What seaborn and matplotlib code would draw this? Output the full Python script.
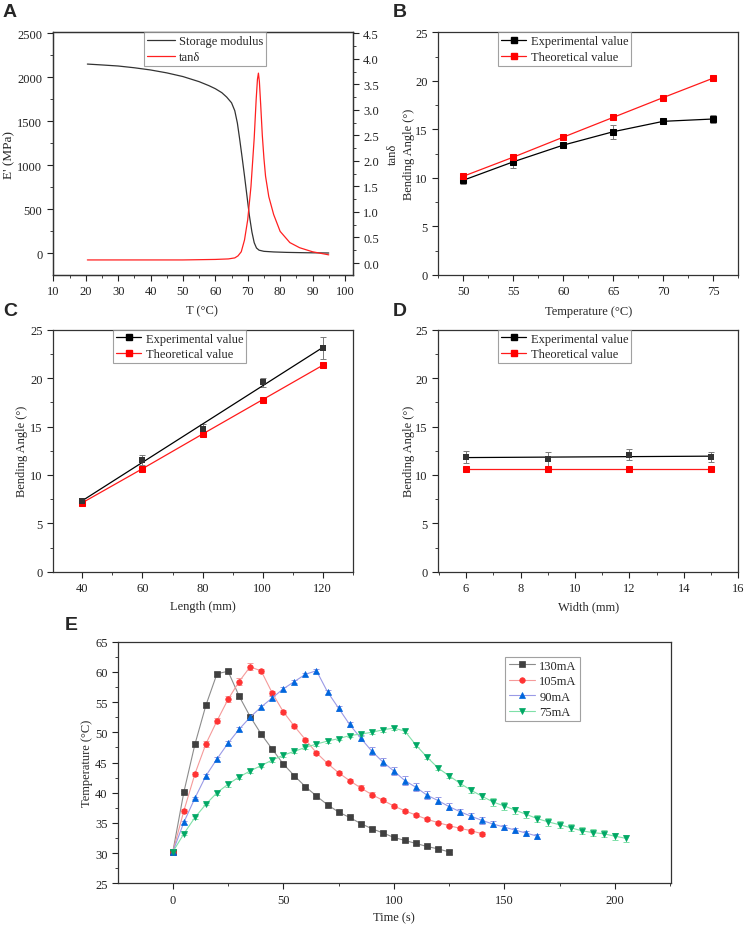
import matplotlib
matplotlib.use("Agg")
import numpy as np
import matplotlib.pyplot as plt
from matplotlib.ticker import MultipleLocator, FormatStrFormatter
from matplotlib.lines import Line2D
import seaborn as sns

# ---------------- data ----------------
# A: DMA scan
dma_T_storage = [20.5, 25, 30, 35, 40, 45, 50, 55, 58, 60, 62, 63.5, 65, 66, 66.8, 67.5,
                 68.3, 69, 69.8, 70.5, 71.3, 72, 72.7, 73.5, 75, 78, 82, 88, 95]
dma_storage = [2150, 2140, 2128, 2108, 2083, 2050, 2008, 1950, 1905, 1870, 1825, 1775,
               1710, 1620, 1480, 1300, 1080, 880, 640, 430, 240, 120, 60, 35, 22, 15, 10, 6, 3]
dma_T_tan = [20.5, 30, 40, 50, 60, 64, 66, 67, 68, 69, 70, 71, 72, 72.6, 73.0, 73.3, 73.6,
             74.0, 74.5, 75.0, 75.5, 76.5, 78, 80, 83, 86, 90, 95]
dma_tan = [0.06, 0.06, 0.06, 0.06, 0.07, 0.08, 0.10, 0.14, 0.22, 0.45, 0.85, 1.5, 2.45,
           3.2, 3.6, 3.72, 3.55, 3.1, 2.5, 2.05, 1.7, 1.3, 0.95, 0.62, 0.4, 0.3, 0.22, 0.16]

# B: temperature
temp_x = [50, 55, 60, 65, 70, 75]
temp_exp = [9.76, 11.66, 13.38, 14.76, 15.83, 16.07]
temp_exp_err = [0.4, 0.6, 0.2, 0.7, 0.2, 0.4]
temp_theo = [10.17, 12.14, 14.2, 16.24, 18.28, 20.28]

# C: length
length_x = [40, 60, 80, 100, 120]
length_exp = [7.33, 11.57, 14.7, 19.56, 23.1]
length_exp_err = [0.3, 0.5, 0.6, 0.5, 1.1]
length_theo = [7.13, 10.64, 14.22, 17.77, 21.32]

# D: width
width_x = [6, 9, 12, 15]
width_exp = [11.88, 11.6, 12.09, 11.88]
width_exp_err = [0.6, 0.8, 0.55, 0.5]
width_theo = [10.64, 10.64, 10.64, 10.64]

# E: heating / cooling curves
t_130 = [0, 5, 10, 15, 20, 25, 30, 35, 40, 45, 50, 55, 60, 65, 70, 75, 80, 85, 90, 95,
         100, 105, 110, 115, 120, 125]
T_130 = [30.2, 40.1, 48.0, 54.5, 59.7, 60.1, 56.0, 52.6, 49.7, 47.2, 44.75, 42.8, 41.0,
         39.45, 38.0, 36.8, 35.9, 34.9, 34.05, 33.35, 32.6, 32.1, 31.6, 31.1, 30.7, 30.2]
e_130 = [0.1, 0.2, 0.3, 0.3, 0.3, 0.3, 0.3, 0.3, 0.3, 0.3, 0.3, 0.3, 0.3, 0.3, 0.3, 0.3,
         0.3, 0.3, 0.3, 0.3, 0.3, 0.3, 0.3, 0.3, 0.3, 0.3]

t_105 = [0, 5, 10, 15, 20, 25, 30, 35, 40, 45, 50, 55, 60, 65, 70, 75, 80, 85, 90, 95,
         100, 105, 110, 115, 120, 125, 130, 135, 140]
T_105 = [30.2, 37.0, 43.1, 48.1, 51.9, 55.45, 58.4, 60.85, 60.15, 56.5, 53.4, 51.0, 48.8,
         46.6, 44.85, 43.3, 42.0, 40.8, 39.7, 38.75, 37.8, 37.0, 36.3, 35.6, 35.05, 34.55,
         34.1, 33.7, 33.2]
e_105 = [0.1, 0.3, 0.3, 0.5, 0.4, 0.5, 0.6, 0.6, 0.4, 0.4, 0.3, 0.3, 0.3, 0.3, 0.3, 0.3,
         0.3, 0.4, 0.4, 0.3, 0.3, 0.3, 0.3, 0.3, 0.3, 0.3, 0.3, 0.3, 0.3]

t_90 = [0, 5, 10, 15, 20, 25, 30, 35, 40, 45, 50, 55, 60, 65, 70, 75, 80, 85, 90, 95,
        100, 105, 110, 115, 120, 125, 130, 135, 140, 145, 150, 155, 160, 165]
T_90 = [30.2, 35.1, 39.1, 42.8, 45.6, 48.2, 50.5, 52.5, 54.2, 55.7, 57.2, 58.4, 59.6, 60.2,
        56.7, 54.0, 51.3, 49.05, 46.9, 45.1, 43.6, 42.0, 40.9, 39.6, 38.7, 37.7, 36.85,
        36.1, 35.4, 34.8, 34.3, 33.8, 33.3, 32.8]
e_90 = [0.1, 0.2, 0.2, 0.3, 0.3, 0.3, 0.3, 0.3, 0.3, 0.3, 0.3, 0.3, 0.3, 0.3, 0.3, 0.4,
        0.4, 0.5, 0.6, 0.6, 0.7, 0.7, 0.7, 0.6, 0.6, 0.6, 0.5, 0.5, 0.5, 0.5, 0.4, 0.4,
        0.4, 0.4]

t_75 = [0, 5, 10, 15, 20, 25, 30, 35, 40, 45, 50, 55, 60, 65, 70, 75, 80, 85, 90, 95,
        100, 105, 110, 115, 120, 125, 130, 135, 140, 145, 150, 155, 160, 165, 170, 175,
        180, 185, 190, 195, 200, 205]
T_75 = [30.2, 33.2, 35.9, 38.1, 40.0, 41.4, 42.6, 43.6, 44.5, 45.4, 46.2, 46.85, 47.5,
        48.05, 48.55, 48.95, 49.45, 49.7, 50.0, 50.4, 50.7, 50.2, 47.9, 45.9, 44.1, 42.8,
        41.55, 40.4, 39.4, 38.45, 37.8, 37.1, 36.4, 35.7, 35.15, 34.7, 34.2, 33.7, 33.4,
        33.2, 32.8, 32.45]
e_75 = [0.1, 0.2, 0.2, 0.2, 0.3, 0.4, 0.4, 0.3, 0.3, 0.3, 0.3, 0.3, 0.3, 0.3, 0.3, 0.3,
        0.3, 0.3, 0.3, 0.3, 0.4, 0.3, 0.3, 0.3, 0.3, 0.4, 0.5, 0.5, 0.5, 0.6, 0.6, 0.6,
        0.6, 0.6, 0.6, 0.6, 0.6, 0.6, 0.6, 0.6, 0.6, 0.6]

currents = ["130mA", "105mA", "90mA", "75mA"]

# ---------------- style ----------------
sns.set_theme(style="ticks")
plt.rcParams["font.family"] = ["Liberation Serif", "DejaVu Serif"]

FS = 9          # text size used for ticks, labels and legends
W, H = 747, 928
fig = plt.figure(figsize=(W / 100, H / 100), dpi=100)


def px_axes(left, top, right, bottom):
    return fig.add_axes([left / W, 1 - bottom / H, (right - left) / W, (bottom - top) / H])


def style_axes(ax, right_ticks=False):
    for s in ax.spines.values():
        s.set_visible(True)
        s.set_linewidth(0.9)
        s.set_color("#333333")
    ax.tick_params(which="both", direction="out", top=False, right=right_ticks,
                   labelsize=FS, colors="#222222")
    ax.tick_params(which="major", length=4, width=0.8)
    ax.tick_params(which="minor", length=2, width=0.6)


def boxed_legend(ax, anchor, handles=None, handlelength=2.0):
    kw = {} if handles is None else {"handles": handles}
    leg = ax.legend(loc="upper left", bbox_to_anchor=anchor, borderaxespad=0,
                    fontsize=FS, fancybox=False, handlelength=handlelength,
                    handletextpad=0.35, labelspacing=0.28, borderpad=0.25, **kw)
    leg.get_frame().set_edgecolor("#8a8a8a")
    leg.get_frame().set_linewidth(0.8)
    return leg


def panel_letter(x, y, s):
    fig.text(x / W, 1 - y / H, s, fontsize=14, fontweight="bold",
             family=["Liberation Sans", "DejaVu Sans"], va="top", ha="left")


# ---------------- A ----------------
axA = px_axes(52.7, 33.3, 352.7, 276)
axA2 = axA.twinx()
sns.lineplot(x=dma_T_storage, y=dma_storage, ax=axA, color="#333333", linewidth=0.9,
             label="Storage modulus", legend=False)
sns.lineplot(x=dma_T_tan, y=dma_tan, ax=axA2, color="#ff2020", linewidth=0.9,
             label="tanδ", legend=False)
axA.set_xlim(9.8, 102.4)
axA.set_ylim(-247, 2511)
axA2.set_ylim(-0.235, 4.52)
axA.xaxis.set_major_locator(MultipleLocator(10))
axA.xaxis.set_minor_locator(MultipleLocator(5))
axA.yaxis.set_major_locator(MultipleLocator(500))
axA.yaxis.set_minor_locator(MultipleLocator(250))
axA2.yaxis.set_major_locator(MultipleLocator(0.5))
axA2.yaxis.set_minor_locator(MultipleLocator(0.25))
axA2.yaxis.set_major_formatter(FormatStrFormatter("%.1f"))
style_axes(axA)
style_axes(axA2, right_ticks=True)
axA2.tick_params(which="both", left=False)
axA.set_xlabel("T (°C)", fontsize=FS)
axA.set_ylabel("E' (MPa)", fontsize=FS + 0.5)
axA2.set_ylabel("tanδ", fontsize=FS)
axA.xaxis.set_label_coords(0.497, -0.122)
axA.yaxis.set_label_coords(-0.126, 0.5)
axA2.yaxis.set_label_coords(1.113, 0.5)
hA = axA.get_lines() + axA2.get_lines()
boxed_legend(axA2, (0.304, 1.0), handles=hA, handlelength=2.2)


# ---------------- B, C, D ----------------
def bending_panel(ax, x, exp, err, theo, fit_exp=False):
    if fit_exp:
        # straight fit line through the experimental points, markers drawn on top
        coef = np.polyfit(x, exp, 1)
        xf = np.array([x[0], x[-1]])
        sns.lineplot(x=xf, y=np.polyval(coef, xf), ax=ax, color="black", linewidth=0.9,
                     legend=False)
        sns.scatterplot(x=x, y=exp, ax=ax, color="#333333", marker="s", s=20,
                        linewidth=0, zorder=3, legend=False)
    else:
        sns.lineplot(x=x, y=exp, ax=ax, color="black", linewidth=0.9, marker="s",
                     markersize=4.2, markerfacecolor="black", markeredgecolor="black",
                     legend=False)
    ax.errorbar(x, exp, yerr=err, fmt="none", ecolor="#7a7a7a", elinewidth=0.7,
                capsize=2.2, capthick=0.7, zorder=1)
    sns.lineplot(x=x, y=theo, ax=ax, color="#ff1a1a", linewidth=0.9, marker="s",
                 markersize=4.2, markerfacecolor="#ff0000", markeredgecolor="#ff0000",
                 legend=False)
    ax.set_ylim(0, 25)
    ax.yaxis.set_major_locator(MultipleLocator(5))
    ax.yaxis.set_minor_locator(MultipleLocator(2.5))
    style_axes(ax)
    ax.set_ylabel("Bending Angle (°)", fontsize=FS)
    ax.yaxis.set_label_coords(-0.078, 0.5)
    handles = [
        Line2D([], [], color="black", linewidth=0.9, marker="s", markersize=4.2,
               markerfacecolor="black", markeredgecolor="black", label="Experimental value"),
        Line2D([], [], color="#ff1a1a", linewidth=0.9, marker="s", markersize=4.2,
               markerfacecolor="#ff0000", markeredgecolor="#ff0000", label="Theoretical value"),
    ]
    boxed_legend(ax, (0.2, 1.0), handles=handles)


axB = px_axes(438.3, 33.3, 738.3, 276)
bending_panel(axB, temp_x, temp_exp, temp_exp_err, temp_theo)
axB.set_xlim(47.5, 77.5)
axB.xaxis.set_major_locator(MultipleLocator(5))
axB.xaxis.set_minor_locator(MultipleLocator(2.5))
axB.set_xlabel("Temperature (°C)", fontsize=FS)
axB.xaxis.set_label_coords(0.5, -0.122)

axC = px_axes(53.3, 330.7, 353.3, 572.7)
bending_panel(axC, length_x, length_exp, length_exp_err, length_theo, fit_exp=True)
axC.set_xlim(30.3, 130.2)
axC.xaxis.set_major_locator(MultipleLocator(20))
axC.xaxis.set_minor_locator(MultipleLocator(10))
axC.set_xlabel("Length (mm)", fontsize=FS)
axC.xaxis.set_label_coords(0.5, -0.118)
axC.yaxis.set_label_coords(-0.083, 0.5)

axD = px_axes(438.3, 330.7, 738.3, 572.7)
bending_panel(axD, width_x, width_exp, width_exp_err, width_theo, fit_exp=True)
axD.set_xlim(4.98, 16)
axD.xaxis.set_major_locator(MultipleLocator(2))
axD.xaxis.set_minor_locator(MultipleLocator(1))
axD.set_xlabel("Width (mm)", fontsize=FS)
axD.xaxis.set_label_coords(0.5, -0.118)

# ---------------- E ----------------
axE = px_axes(118, 642.7, 670.7, 884.3)
series_E = [
    (t_130, T_130, e_130, "s", "#404040", "#8c8c8c"),
    (t_105, T_105, e_105, "o", "#ff3333", "#f59a9a"),
    (t_90, T_90, e_90, "^", "#0066dd", "#9a9ae6"),
    (t_75, T_75, e_75, "v", "#00a865", "#7fe0a8"),
]
for (t, T, e, mk, mcol, lcol), name in zip(series_E, currents):
    axE.errorbar(t, T, yerr=e, fmt="none", ecolor=lcol, elinewidth=0.7, capsize=2,
                 capthick=0.7, zorder=1)
    sns.lineplot(x=t, y=T, ax=axE, color=lcol, linewidth=0.8, marker=mk,
                 markersize=4.0, markerfacecolor=mcol, markeredgecolor=mcol,
                 markeredgewidth=0.5, label=name, legend=False)
axE.set_xlim(-24.8, 225.3)
axE.set_ylim(25, 65)
axE.xaxis.set_major_locator(MultipleLocator(50))
axE.xaxis.set_minor_locator(MultipleLocator(25))
axE.yaxis.set_major_locator(MultipleLocator(5))
axE.yaxis.set_minor_locator(MultipleLocator(2.5))
style_axes(axE)
axE.set_xlabel("Time (s)", fontsize=FS)
axE.set_ylabel("Temperature (°C)", fontsize=FS)
axE.xaxis.set_label_coords(0.499, -0.115)
axE.yaxis.set_label_coords(-0.045, 0.5)
boxed_legend(axE, (0.701, 0.938), handlelength=2.1)

panel_letter(3, 4, "A")
panel_letter(393, 4, "B")
panel_letter(3, 303, "C")
panel_letter(393, 303, "D")
panel_letter(65, 617, "E")

fig.savefig("out.png", dpi=100)
